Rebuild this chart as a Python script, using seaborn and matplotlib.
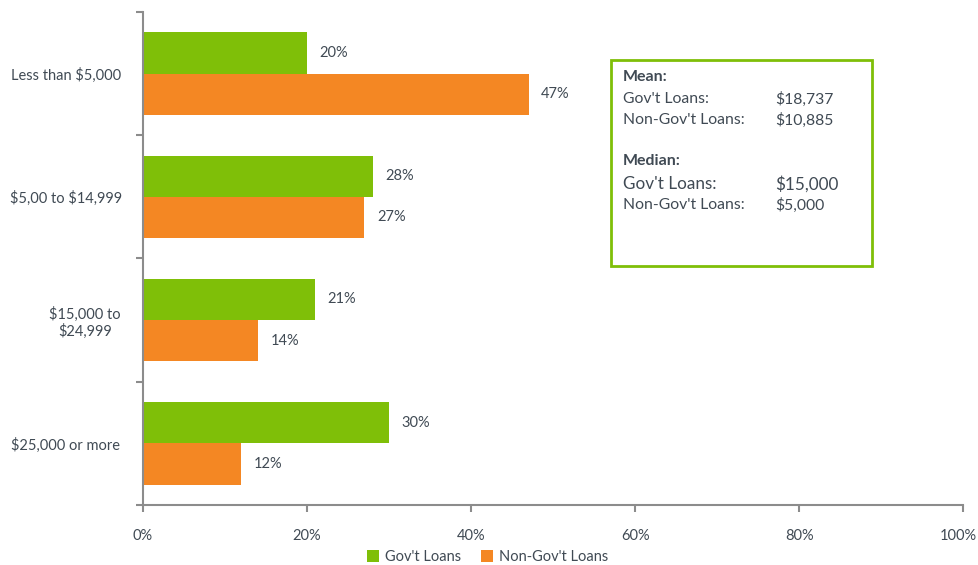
import pandas as pd
import matplotlib.pyplot as plt
import matplotlib.patches as mpatches
import matplotlib.transforms as mtrans
import seaborn as sns

categories = ["Less than $5,000", "$5,00 to $14,999", "$15,000 to\n$24,999", "$25,000 or more"]
gov_loans = [20, 28, 21, 30]
non_gov_loans = [47, 27, 14, 12]
series_names = ["Gov't Loans", "Non-Gov't Loans"]
x_ticks = [0, 20, 40, 60, 80, 100]

df = pd.DataFrame({
    "category": categories * 2,
    "value": gov_loans + non_gov_loans,
    "series": [series_names[0]] * 4 + [series_names[1]] * 4,
})

TEXT = "#404a54"
AXIS = "#8c8c8c"
colors = {series_names[0]: "#7fbf08", series_names[1]: "#f48723"}

sns.set_style("white")
plt.rcParams["font.family"] = ["Lato", "DejaVu Sans"]
plt.rcParams["text.parse_math"] = False

fig = plt.figure(figsize=(9.79, 5.65), dpi=100)
ax = fig.add_axes([0.146, 0.106, 0.838, 0.873])

sns.barplot(data=df, y="category", x="value", hue="series", palette=colors,
            orient="h", width=0.67, saturation=1, ax=ax, legend=True, linewidth=0)

for cont in ax.containers:
    ax.bar_label(cont, labels=[f"{v:.0f}%" for v in cont.datavalues],
                 padding=9, fontsize=10.5, color=TEXT)

ax.set_xlim(0, 100)
ax.set_ylim(3.5, -0.5)
ax.set_xticks(x_ticks)
ax.set_xticklabels([f"{t}%" for t in x_ticks])
ax.set_xlabel("")
ax.set_ylabel("")
ax.set_yticks([i - 0.5 for i in range(5)], minor=True)
ax.tick_params(axis="y", which="major", length=0, pad=0, labelsize=10.5, labelcolor=TEXT)
ax.tick_params(axis="y", which="minor", length=5, color=AXIS, width=1.5, direction="out", left=True)
ax.tick_params(axis="x", length=5, color=AXIS, width=1.5, direction="out", bottom=True,
               labelsize=10.5, labelcolor=TEXT, pad=12)

# center the category labels in the left margin (two-line label sits further right)
for lbl in ax.get_yticklabels():
    shift = -0.58 if "\n" in lbl.get_text() else -0.77
    lbl.set_horizontalalignment("center")
    lbl.set_multialignment("center")
    lbl.set_transform(lbl.get_transform() + mtrans.ScaledTranslation(shift, 0, fig.dpi_scale_trans))

last = ax.get_xticklabels()[-1]
last.set_transform(last.get_transform() + mtrans.ScaledTranslation(-0.05, 0, fig.dpi_scale_trans))

sns.despine(ax=ax)
for s in ["left", "bottom"]:
    ax.spines[s].set_color(AXIS)
    ax.spines[s].set_linewidth(1.5)

handles, labels = ax.get_legend_handles_labels()
ax.get_legend().remove()
fig.legend(handles, labels, loc="center", bbox_to_anchor=(0.498, 0.014), ncol=2,
           frameon=False, fontsize=10.5, labelcolor=TEXT, handlelength=0.8,
           handleheight=0.8, handletextpad=0.4, columnspacing=1.4)

# summary box
fig.patches.append(mpatches.Rectangle((611 / 979, 1 - 266 / 565), 261 / 979, 206 / 565,
                                      transform=fig.transFigure, fill=False,
                                      edgecolor="#7fbf08", linewidth=2))
rows = [
    ("Mean:", None, 77, True, 11.5),
    ("Gov't Loans:", "$18,737", 99, False, 11.3),
    ("Non-Gov't Loans:", "$10,885", 120, False, 11.3),
    ("Median:", None, 161, True, 11.5),
    ("Gov't Loans:", "$15,000", 184, False, 12.3),
    ("Non-Gov't Loans:", "$5,000", 205, False, 11.3),
]
for label, val, ypix, bold, fs in rows:
    fig.text(623 / 979, 1 - ypix / 565, label, fontsize=fs, color=TEXT, va="center",
             fontweight="bold" if bold else "normal")
    if val:
        fig.text(775 / 979, 1 - ypix / 565, val, fontsize=fs, color=TEXT, va="center")

fig.savefig("out.png", dpi=100)
